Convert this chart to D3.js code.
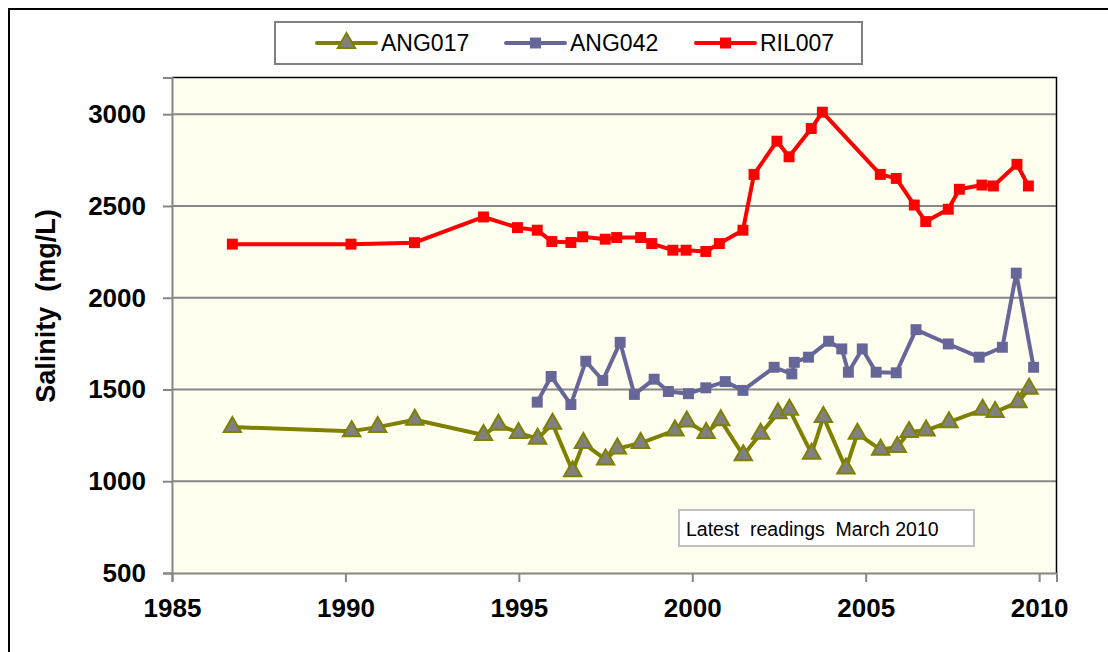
<!DOCTYPE html>
<html>
<head>
<meta charset="utf-8">
<script src="https://cdn.jsdelivr.net/npm/d3@7"></script>
<style>
html,body{margin:0;padding:0;background:#fff;}
svg{display:block;font-family:"Liberation Sans",Arial,sans-serif;}
</style>
</head>
<body>
<svg id="chart" width="1108" height="652"></svg>
<script>
const seriesNames = ["ANG017", "ANG042", "RIL007"];
const ril007Years = [1986.74,1990.16,1991.99,1993.98,1994.96,1995.53,1995.95,1996.5,1996.84,1997.49,1997.82,1998.51,1998.83,1999.44,1999.82,2000.39,2000.78,2001.46,2001.78,2002.44,2002.79,2003.43,2003.75,2005.42,2005.88,2006.4,2006.73,2007.38,2007.7,2008.35,2008.68,2009.36,2009.69];
const ril007Values = [2292,2292,2300,2440,2382,2368,2306,2301,2332,2319,2328,2328,2295,2259,2259,2252,2295,2368,2672,2853,2768,2922,3011,2672,2650,2505,2415,2482,2591,2614,2609,2727,2609];
const ang042Years = [1995.53,1995.93,1996.5,1996.93,1997.42,1997.92,1998.33,1998.9,1999.31,1999.89,2000.39,2000.95,2001.46,2002.36,2002.87,2002.94,2003.35,2003.93,2004.31,2004.5,2004.9,2005.3,2005.88,2006.45,2007.38,2008.27,2008.94,2009.34,2009.84];
const ang042Values = [1431,1571,1418,1654,1549,1757,1473,1556,1489,1477,1509,1543,1495,1621,1585,1648,1676,1763,1721,1594,1721,1594,1591,1826,1748,1676,1730,2134,1621];
const ang017Years = [1986.74,1990.18,1990.93,1992.0,1993.98,1994.41,1994.99,1995.54,1995.97,1996.55,1996.86,1997.5,1997.84,1998.51,1999.5,1999.84,2000.4,2000.82,2001.47,2001.97,2002.47,2002.8,2003.44,2003.78,2004.43,2004.76,2005.43,2005.91,2006.25,2006.74,2007.4,2008.37,2008.73,2009.39,2009.71];
const ang017Values = [1295,1273,1295,1335,1252,1308,1263,1232,1313,1054,1208,1118,1178,1208,1277,1326,1263,1332,1141,1259,1371,1390,1150,1350,1069,1259,1172,1187,1268,1277,1322,1390,1377,1431,1504];
const xTicks = [1985,1990,1995,2000,2005,2010];
const yTicks = [500,1000,1500,2000,2500,3000];
const yTitle = "Salinity  (mg/L)";
const noteText = "Latest  readings  March 2010";

const svg = d3.select("#chart");
const plot = {left:172, right:1056.5, top:77.5, bottom:573};
const x = d3.scaleLinear().domain([1985, 2010.5]).range([plot.left, plot.right]);
const y = d3.scaleLinear().domain([500, 3200]).range([plot.bottom, plot.top]);

// outer frame (cropped at right/bottom)
svg.append("rect").attr("x",9).attr("y",9).attr("width",1200).attr("height",700)
  .attr("fill","#fff").attr("stroke","#000").attr("stroke-width",2);

// plot background
svg.append("rect").attr("x",plot.left).attr("y",plot.top)
  .attr("width",plot.right-plot.left).attr("height",plot.bottom-plot.top)
  .attr("fill","#FFFFEF");

// gridlines
svg.append("g").selectAll("line").data(yTicks.filter(d=>d>500)).join("line")
  .attr("x1",plot.left).attr("x2",plot.right)
  .attr("y1",d=>y(d)).attr("y2",d=>y(d))
  .attr("stroke","#868686").attr("stroke-width",2);

// plot border top/right
svg.append("path")
  .attr("d",`M${plot.left},${plot.top}H${plot.right}V${plot.bottom}`)
  .attr("fill","none").attr("stroke","#000").attr("stroke-width",1.5);

// y axis
const yAxis = svg.append("g").attr("transform",`translate(${plot.left},0)`)
  .call(d3.axisLeft(y).tickValues(yTicks).tickSize(9).tickPadding(17).tickFormat(d3.format("d")));
yAxis.select(".domain").attr("stroke","#868686").attr("stroke-width",2);
yAxis.selectAll(".tick line").attr("stroke","#868686").attr("stroke-width",2);
yAxis.selectAll(".tick text").attr("font-size",26).attr("font-weight","bold")
  .attr("fill","#000").attr("font-family","Liberation Sans, Arial, sans-serif");

// x axis
const xAxis = svg.append("g").attr("transform",`translate(0,${plot.bottom})`)
  .call(d3.axisBottom(x).tickValues(xTicks).tickSize(9).tickPadding(17).tickFormat(d3.format("d")));
xAxis.select(".domain").attr("stroke","#868686").attr("stroke-width",2);
xAxis.selectAll(".tick line").attr("stroke","#868686").attr("stroke-width",2);
xAxis.selectAll(".tick text").attr("font-size",26).attr("font-weight","bold")
  .attr("fill","#000").attr("font-family","Liberation Sans, Arial, sans-serif");

// y title
svg.append("text").attr("transform","translate(46,306) rotate(-90)")
  .attr("text-anchor","middle").attr("dominant-baseline","central")
  .attr("font-size",27).attr("font-weight","bold").attr("fill","#000")
  .attr("xml:space","preserve").style("white-space","pre").text(yTitle);

const series = [
  {name:seriesNames[0], years:ang017Years, values:ang017Values, color:"#808000", width:4, marker:"tri"},
  {name:seriesNames[1], years:ang042Years, values:ang042Values, color:"#666699", width:4, marker:"sq"},
  {name:seriesNames[2], years:ril007Years, values:ril007Values, color:"#FF0000", width:4, marker:"sq"}
];

const line = d3.line().x(d=>x(d[0])).y(d=>y(d[1]));
const tri = d3.symbol().type(d3.symbolTriangle).size(130);
const sq = d3.symbol().type(d3.symbolSquare).size(120);

function drawMarker(g, s, px, py){
  if(s.marker==="tri"){
    g.append("path").attr("d",tri()).attr("transform",`translate(${px},${py})`)
      .attr("fill","#808080").attr("stroke",s.color).attr("stroke-width",2);
  } else {
    g.append("path").attr("d",sq()).attr("transform",`translate(${px},${py})`)
      .attr("fill",s.color);
  }
}

series.forEach(s=>{
  const pts = s.years.map((yr,i)=>[yr, s.values[i]]);
  const g = svg.append("g");
  g.append("path").datum(pts).attr("d",line).attr("fill","none")
    .attr("stroke",s.color).attr("stroke-width",s.width).attr("stroke-linejoin","round");
  pts.forEach(p=>drawMarker(g, s, x(p[0]), y(p[1])));
});

// legend
const lg = svg.append("g");
lg.append("rect").attr("x",275).attr("y",22).attr("width",587).attr("height",42)
  .attr("fill","#fff").attr("stroke","#808080").attr("stroke-width",2);
const legendX = [317, 506, 696];
series.forEach((s,i)=>{
  const lx = legendX[i], ly = 43;
  lg.append("line").attr("x1",lx).attr("x2",lx+59).attr("y1",ly).attr("y2",ly)
    .attr("stroke",s.color).attr("stroke-width",s.width).attr("stroke-linecap","round");
  drawMarker(lg, s, lx+29.5, ly);
  lg.append("text").attr("x",lx+64).attr("y",ly).attr("dominant-baseline","central")
    .attr("font-size",23).attr("fill","#000").text(s.name);
});

// note box
svg.append("rect").attr("x",679).attr("y",510).attr("width",295).attr("height",36)
  .attr("fill","#fff").attr("stroke","#C0C0C0").attr("stroke-width",2);
svg.append("text").attr("x",686).attr("y",529).attr("dominant-baseline","central")
  .attr("font-size",19.5).attr("fill","#000").attr("xml:space","preserve")
  .style("white-space","pre").text(noteText);
</script>
</body>
</html>
